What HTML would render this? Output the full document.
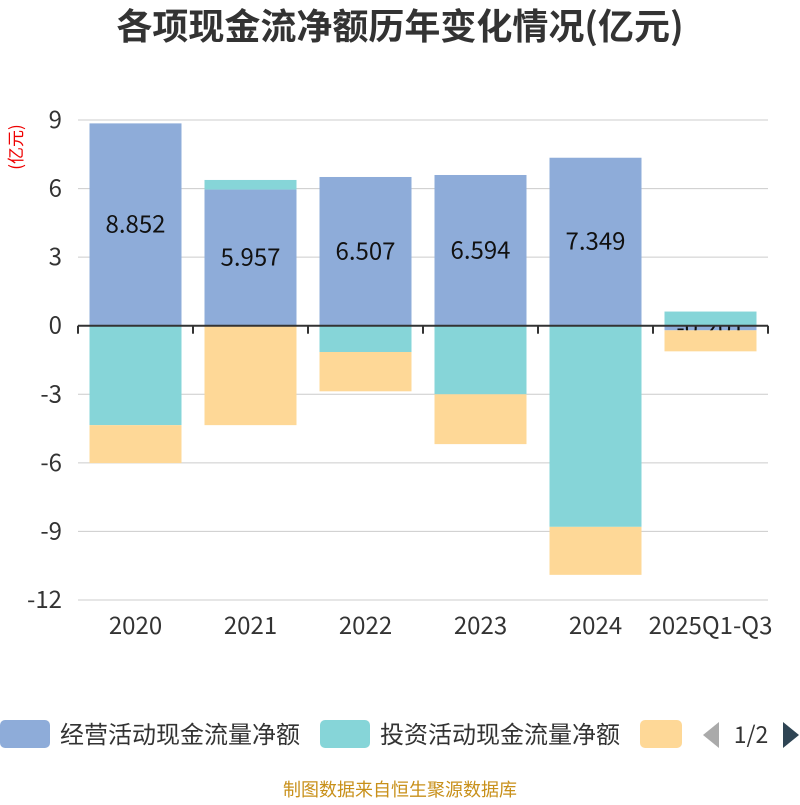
<!DOCTYPE html>
<html><head><meta charset="utf-8"><style>
body{margin:0;background:#fff;font-family:"Noto Sans CJK SC",sans-serif}
</style></head><body>
<svg id="c" width="800" height="800" xmlns="http://www.w3.org/2000/svg" font-family="Noto Sans CJK SC, sans-serif">
<text x="400" y="39" text-anchor="middle" font-size="36" font-weight="bold" fill="#333">各项现金流净额历年变化情况(亿元)</text>
<text transform="translate(22,147) rotate(-90)" text-anchor="middle" font-size="17" fill="#e00">(亿元)</text>
<g id="grid"></g><g id="bars"></g><g id="axis"></g>
<g>
<rect x="0" y="720" width="50" height="28" rx="5" fill="#8eacd9"/>
<text x="60" y="743" font-size="24" fill="#333">经营活动现金流量净额</text>
<rect x="320" y="720" width="50" height="28" rx="5" fill="#86d5d8"/>
<text x="380" y="743" font-size="24" fill="#333">投资活动现金流量净额</text>
<rect x="640" y="720" width="42" height="28" rx="5" fill="#fed897"/>
<polygon points="719,722 719,748 703,735" fill="#aaa"/>
<text x="751" y="743" text-anchor="middle" font-size="23" fill="#333">1/2</text>
<polygon points="783,722 783,748 799,735" fill="#2f4554"/>
</g>
<text x="400" y="796" text-anchor="middle" font-size="18" fill="#c8901a">制图数据来自恒生聚源数据库</text>
</svg>
<script>
const categories=["2020","2021","2022","2023","2024","2025Q1-Q3"];
const operating=[8.852,5.957,6.507,6.594,7.349,-0.201];
const investing=[-4.35,0.42,-1.15,-3.0,-8.8,0.62];
const financing=[-1.66,-4.35,-1.72,-2.18,-2.1,-0.92];
const yTicks=[9,6,3,0,-3,-6,-9,-12];
const NS="http://www.w3.org/2000/svg";
const L=78,R=768,T=120,B=600,yMax=9,yMin=-12;
const y=v=>T+(yMax-v)/(yMax-yMin)*(B-T);
const bw=(R-L)/categories.length;
const x=i=>L+i*bw;
function mk(p,tag,a){const e=document.createElementNS(NS,tag);for(const k in a)e.setAttribute(k,a[k]);document.getElementById(p).appendChild(e);return e;}
yTicks.forEach(t=>{
 const g=mk('grid','line',{x1:L,x2:R,y1:y(t),y2:y(t),stroke:'#ccc','stroke-width':1});
 
 
 const tx=mk('grid','text',{x:L-16,y:y(t)+8,'text-anchor':'end','font-size':24,fill:'#333'});
 tx.textContent=t;
 
 
});
function bar(i,v0,v1,color,name){
 const top=Math.min(y(v0),y(v1)),h=Math.abs(y(v0)-y(v1));
 const r=mk('bars','rect',{x:x(i)+11.5,y:top,width:bw*0.8,height:h,fill:color});
 
 
}
categories.forEach((c,i)=>{
 const o=operating[i];
 bar(i,0,o,'#8eacd9','bar-operating');
 const t=mk('bars','text',{x:x(i)+bw/2,y:(y(0)+y(o))/2+8,'text-anchor':'middle','font-size':24,fill:'#111'});
 t.textContent=o.toFixed(3);
 
 
});
categories.forEach((c,i)=>{
 let pos=Math.max(0,operating[i]),neg=Math.min(0,operating[i]);
 const iv=investing[i];
 if(iv>=0){bar(i,pos,pos+iv,'#86d5d8','bar-investing');pos+=iv;}else{bar(i,neg,neg+iv,'#86d5d8','bar-investing');neg+=iv;}
 const f=financing[i];
 if(f>=0){bar(i,pos,pos+f,'#fed897','bar-financing');}else{bar(i,neg,neg+f,'#fed897','bar-financing');}
});
const ax=mk('axis','line',{x1:L,x2:R,y1:y(0),y2:y(0),stroke:'#333','stroke-width':2});


for(let i=0;i<=categories.length;i++){
 const tk=mk('axis','line',{x1:x(i),x2:x(i),y1:y(0),y2:y(0)+8,stroke:'#333','stroke-width':2});
 
 
}
categories.forEach((c,i)=>{
 const t=mk('axis','text',{x:x(i)+bw/2,y:634,'text-anchor':'middle','font-size':24,fill:'#333'});
 t.textContent=c;
 
 
});
</script>
</body></html>
